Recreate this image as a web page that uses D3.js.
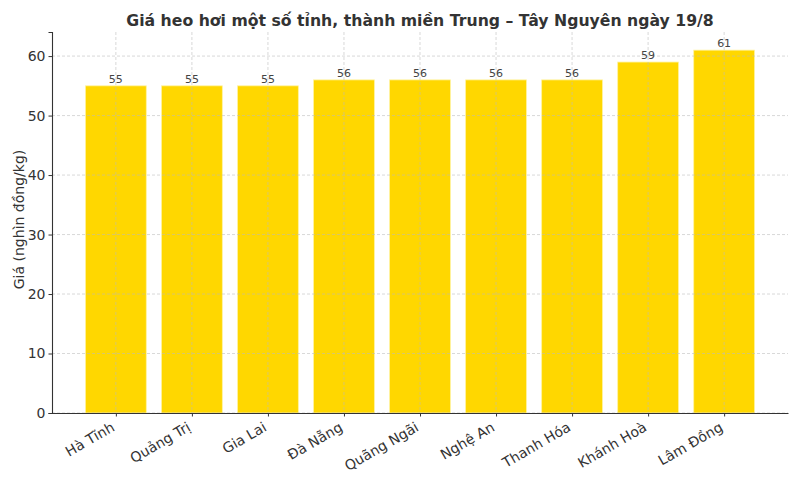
<!DOCTYPE html>
<html>
<head>
<meta charset="utf-8">
<script src="https://cdn.jsdelivr.net/npm/d3@7"></script>
<style>
  body { margin: 0; background: #fff; }
  text { font-family: "DejaVu Sans", sans-serif; }
</style>
</head>
<body>
<svg id="mainSvg" width="800" height="480"></svg>
<script>
// Chart data
let provinces = ["Hà Tĩnh", "Quảng Trị", "Gia Lai", "Đà Nẵng", "Quãng Ngãi", "Nghệ An", "Thanh Hóa", "Khánh Hoà", "Lâm Đồng"];
let prices = [55, 55, 55, 56, 56, 56, 56, 59, 61];
let yTicks = [0, 10, 20, 30, 40, 50, 60];

let titleText = "Giá heo hơi một số tỉnh, thành miền Trung – Tây Nguyên ngày 19/8";
let yLabelText = "Giá (nghìn đồng/kg)";

let svg = d3.select("#mainSvg");
let mLeft = 52, mRight = 788, mTop = 32, mBottom = 413;

// matplotlib-like margins around the bars
let x = d3.scaleLinear()
    .domain([-0.84, provinces.length - 1 + 0.84])
    .range([mLeft, mRight]);
let y = d3.scaleLinear()
    .domain([0, d3.max(prices) * 1.05])
    .range([mBottom, mTop]);
let barW = x(0.8) - x(0);

// Bars
svg.append("g")
    .selectAll("rect")
    .data(prices)
    .join("rect")
    .attr("x", (d, i) => x(i) - barW / 2)
    .attr("y", (d) => y(d))
    .attr("width", barW)
    .attr("height", (d) => y(0) - y(d))
    .attr("fill", "#FFD700")
    .attr("stroke", "#fff3a0")
    .attr("stroke-width", 0.8);

// Grid (drawn over bars)
let grid = svg.append("g").attr("stroke", "#bbb").attr("stroke-width", 0.7)
    .attr("stroke-dasharray", "3,2").attr("opacity", 0.8);
grid.selectAll("line.h")
    .data(yTicks)
    .join("line")
    .attr("class", "h")
    .attr("x1", mLeft).attr("x2", mRight)
    .attr("y1", (d) => y(d)).attr("y2", (d) => y(d));
grid.selectAll("line.v")
    .data(provinces)
    .join("line")
    .attr("class", "v")
    .attr("x1", (d, i) => x(i)).attr("x2", (d, i) => x(i))
    .attr("y1", mTop).attr("y2", mBottom);

// Value labels
svg.append("g")
    .selectAll("text")
    .data(prices)
    .join("text")
    .attr("x", (d, i) => x(i))
    .attr("y", (d) => y(d) - 3)
    .attr("text-anchor", "middle")
    .style("font-size", "11px")
    .attr("fill", "#444")
    .text((d) => d);

// Y axis
let yAxis = svg.append("g")
    .attr("transform", `translate(${mLeft},0)`)
    .call(d3.axisLeft(y).tickValues(yTicks).tickSize(3.5).tickPadding(3));
yAxis.select(".domain").attr("stroke", "#333").attr("stroke-width", 1.1);
yAxis.selectAll(".tick line").attr("stroke", "#333");
yAxis.selectAll(".tick text").style("font-size", "14px").attr("fill", "#333");

// X axis
let xAxis = svg.append("g")
    .attr("transform", `translate(0,${mBottom})`)
    .call(d3.axisBottom(x)
        .tickValues(d3.range(provinces.length))
        .tickFormat((i) => provinces[i])
        .tickSize(3.5)
        .tickSizeOuter(0));
xAxis.select(".domain").attr("stroke", "#333").attr("stroke-width", 1.1);
xAxis.selectAll(".tick line").attr("stroke", "#333");
xAxis.selectAll(".tick text")
    .style("font-size", "14px")
    .attr("fill", "#333")
    .attr("text-anchor", "end")
    .attr("dy", null)
    .attr("y", 0)
    .attr("transform", "translate(-6,8) rotate(-30)")
    .attr("dominant-baseline", "hanging");

// Title
svg.append("text")
    .attr("x", (mLeft + mRight) / 2)
    .attr("y", 26)
    .attr("text-anchor", "middle")
    .style("font-size", "15.7px")
    .attr("font-weight", "bold")
    .attr("fill", "#333")
    .text(titleText);

// Y label
svg.append("text")
    .attr("transform", `translate(24,${(mTop + mBottom) / 2 - 3}) rotate(-90)`)
    .attr("text-anchor", "middle")
    .style("font-size", "14px")
    .attr("fill", "#333")
    .text(yLabelText);
</script>
</body>
</html>
